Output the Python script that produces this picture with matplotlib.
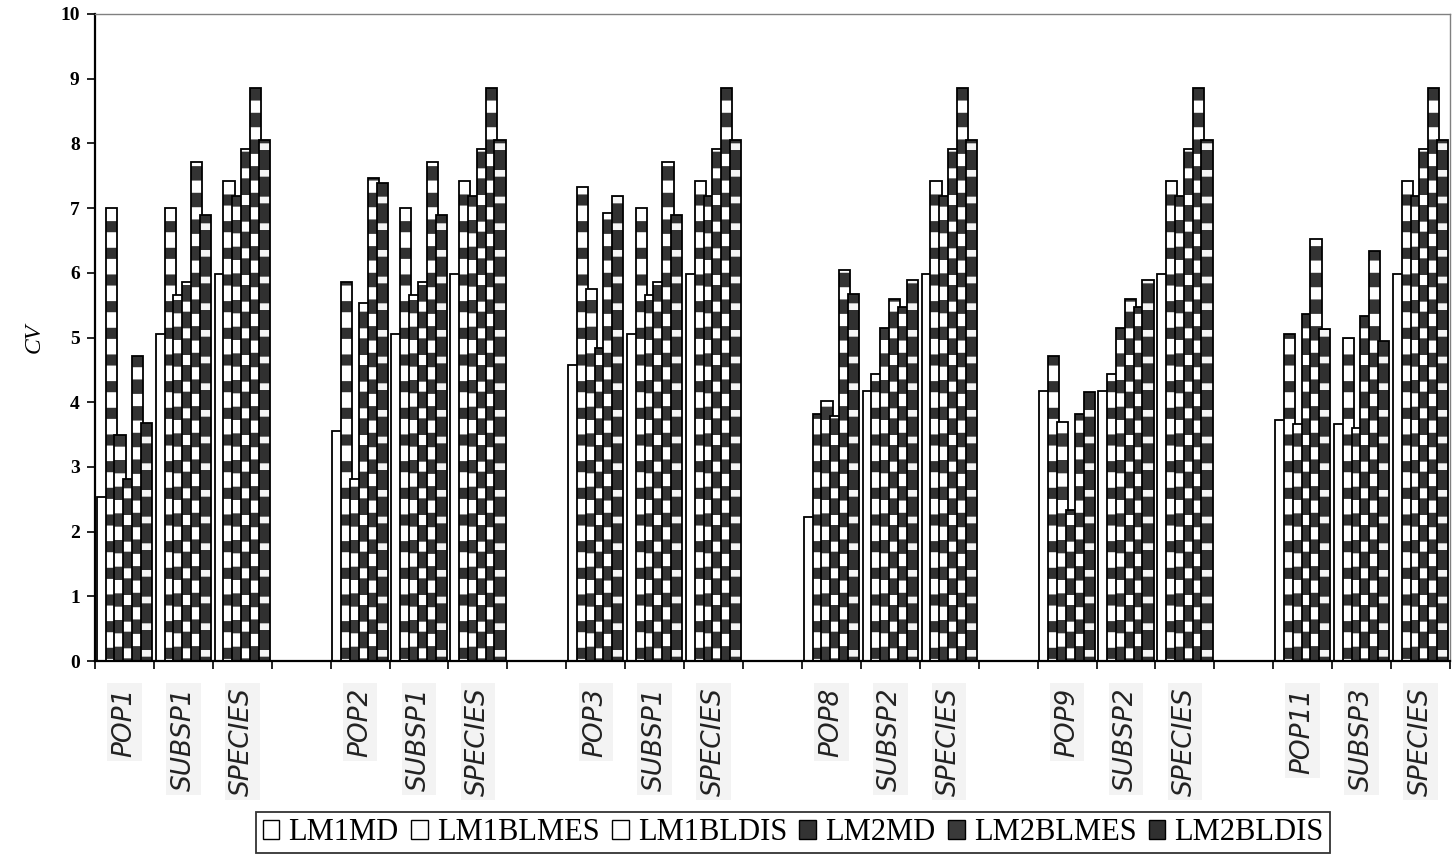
import numpy as np
import matplotlib
matplotlib.use("Agg")
import matplotlib.pyplot as plt
from matplotlib.patches import Patch
import matplotlib.transforms as mtransforms

# --- data ---
series = ["LM1MD", "LM1BLMES", "LM1BLDIS", "LM2MD", "LM2BLMES", "LM2BLDIS"]

pop1 = [2.54, 7.00, 3.49, 2.81, 4.71, 3.68]
pop2 = [3.55, 5.86, 2.81, 5.54, 7.47, 7.39]
pop3 = [4.57, 7.32, 5.75, 4.83, 6.93, 7.19]
pop8 = [2.22, 3.81, 4.02, 3.79, 6.04, 5.68]
pop9 = [4.18, 4.71, 3.70, 2.33, 3.81, 4.15]
pop11 = [3.73, 5.05, 3.67, 5.36, 6.52, 5.13]
subsp1 = [5.05, 7.00, 5.66, 5.86, 7.71, 6.89]
subsp2 = [4.18, 4.44, 5.15, 5.60, 5.47, 5.89]
subsp3 = [3.67, 4.99, 3.60, 5.34, 6.34, 4.95]
species = [5.98, 7.42, 7.18, 7.92, 8.85, 8.05]
empty = [np.nan] * 6

categories = ["POP1", "SUBSP1", "SPECIES", "",
              "POP2", "SUBSP1", "SPECIES", "",
              "POP3", "SUBSP1", "SPECIES", "",
              "POP8", "SUBSP2", "SPECIES", "",
              "POP9", "SUBSP2", "SPECIES", "",
              "POP11", "SUBSP3", "SPECIES"]
rows = [pop1, subsp1, species, empty,
        pop2, subsp1, species, empty,
        pop3, subsp1, species, empty,
        pop8, subsp2, species, empty,
        pop9, subsp2, species, empty,
        pop11, subsp3, species]
values = np.array(rows).T  # (6 series, 23 categories)

# rendered at 160 dpi so the hatch bands get a wider period; F keeps pixel sizes
DPI = 160
F = 100 / DPI

# fill / hatch style per series
styles = [
    dict(face="white", hatch=None, hcol="white", hlw=1, leg="white"),
    dict(face="white", hatch="-", hcol="#303030", hlw=5.0, leg="white"),
    dict(face="white", hatch="-", hcol="#383838", hlw=6.0, leg="white"),
    dict(face="#333333", hatch="-", hcol="white", hlw=4.5, leg="#333333"),
    dict(face="white", hatch="-", hcol="#333333", hlw=6.5, leg="#3a3a3a"),
    dict(face="#303030", hatch="-", hcol="#f4f4f4", hlw=3.0, leg="#303030"),
]

fig = plt.figure(figsize=(1454 / DPI, 854 / DPI), dpi=DPI)
ax = fig.add_axes([95 / 1454, 1 - 661 / 854, 1355 / 1454, 647 / 854])

x = np.arange(len(categories)) + 0.5
spacing = 0.15
width = 0.19
for k in range(6):
    st = styles[k]
    pos = x + (k - 2.5) * spacing
    with plt.rc_context({"hatch.linewidth": st["hlw"]}):
        ax.bar(pos, values[k], width=width, color=st["face"], hatch=st["hatch"],
               edgecolor=st["hcol"], linewidth=0, zorder=2 + k * 0.1)
    ax.bar(pos, values[k], width=width, fill=False, edgecolor="black",
           linewidth=1.3 * F, zorder=2.05 + k * 0.1)

ax.set_xlim(0, len(categories))
ax.set_ylim(0, 10)
ax.set_yticks(range(11))
ax.set_yticklabels([str(v) for v in range(11)], fontfamily="Liberation Serif",
                   fontweight="bold", fontsize=14 * F)
ax.set_xticks(np.arange(len(categories) + 1))
ax.set_xticklabels([])
ax.tick_params(axis="both", direction="out", length=6 * F, width=1.2 * F,
               colors="black", pad=5 * F)

for side in ["left", "bottom"]:
    ax.spines[side].set_linewidth(1.6 * F)
for side in ["top", "right"]:
    ax.spines[side].set_color("#808080")
    ax.spines[side].set_linewidth(1.0 * F)

ax.set_ylabel("CV", fontfamily="Liberation Serif", fontstyle="italic",
              fontsize=17 * F, labelpad=11 * F)

trans = mtransforms.blended_transform_factory(ax.transData, ax.transAxes)
for xi, lab in zip(x, categories):
    if lab:
        ax.text(xi, -0.041, lab, transform=trans, rotation=90, ha="center", va="top",
                fontsize=19 * F, fontstyle="italic", fontfamily="DejaVu Sans",
                color="#222222",
                bbox=dict(facecolor="#f3f3f3", edgecolor="none", pad=3 * F))

handles = [Patch(facecolor=st["leg"], edgecolor="black", linewidth=1.0 * F,
                 label=name) for st, name in zip(styles, series)]
leg = fig.legend(handles=handles, loc="lower center", bbox_to_anchor=(0.5455, -0.017),
                 ncol=6, prop={"family": "Liberation Serif", "size": 22 * F},
                 handlelength=0.55, handleheight=0.55, handletextpad=0.3,
                 columnspacing=0.4, borderpad=0.2, fancybox=False, frameon=True)
leg.get_frame().set_edgecolor("black")
leg.get_frame().set_linewidth(1.3 * F)

fig.savefig("out.png", dpi=DPI)
